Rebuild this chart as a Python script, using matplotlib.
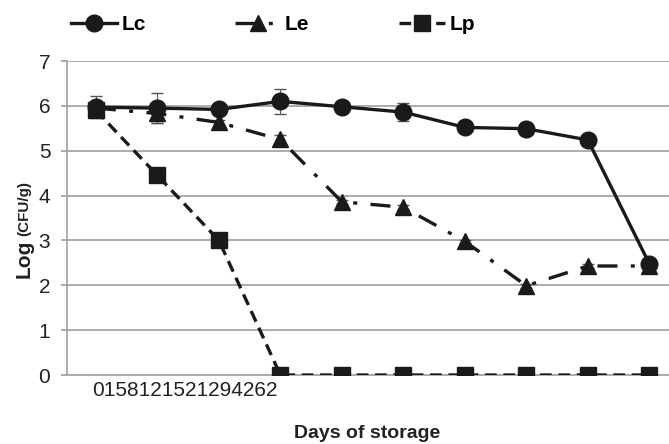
import matplotlib
matplotlib.use('Agg')
import matplotlib.pyplot as plt

plt.rcParams['font.family'] = ['Liberation Sans', 'DejaVu Sans']

# data
days = ['0', '1', '5', '8', '12', '15', '21', '29', '42', '62']
lc = [5.97, 5.95, 5.92, 6.10, 5.98, 5.86, 5.52, 5.49, 5.24, 2.48]
le = [5.95, 5.83, 5.63, 5.25, 3.86, 3.74, 2.98, 1.99, 2.43, 2.43]
lp = [5.90, 4.45, 3.00, 0, 0, 0, 0, 0, 0, 0]
lc_err = [0.25, 0.33, 0.08, 0.28, 0.05, 0.20, 0.04, 0.04, 0.04, 0.04]
le_err = [0.10, 0.22, 0.06, 0.10, 0.05, 0.05, 0.04, 0.04, 0.04, 0.04]

W, H = 669, 444
fig = plt.figure(figsize=(W / 100, H / 100), dpi=100)
ax = fig.add_axes([67 / W, 1 - 375 / H, (W - 67) / W, (375 - 61) / H])

x = list(range(len(days)))
grey = '#a6a6a6'

ax.errorbar(x, lc, yerr=lc_err, fmt='none', ecolor='#555555', elinewidth=0.8, capsize=4, zorder=2)
ax.errorbar(x, le, yerr=le_err, fmt='none', ecolor='#555555', elinewidth=0.8, capsize=4, zorder=2)

ax.plot(x, lc, color='#1a1a1a', lw=2.4, marker='o', ms=12, label='Lc', zorder=5)
ax.plot(x, le, color='#1a1a1a', lw=2.4, dashes=(6, 4, 1.2, 4), marker='^', ms=11,
        label='Le', zorder=4)
ax.plot(x, lp, color='#1a1a1a', lw=2.4, dashes=(3.5, 2), marker='s', ms=11,
        label='Lp', zorder=3)

ax.set_xlim(-0.47, 9.32)
ax.set_ylim(0, 7)
ax.set_yticks(range(0, 8))
ax.yaxis.grid(True, color=grey, lw=1.3)
ax.set_axisbelow(True)
for s in ['top', 'right']:
    ax.spines[s].set_visible(False)
ax.spines['left'].set_color(grey)
ax.spines['left'].set_linewidth(1.3)
ax.spines['bottom'].set_color(grey)
ax.spines['bottom'].set_linewidth(1.3)
ax.tick_params(axis='y', colors=grey, length=4, width=1.3, labelsize=15,
               labelcolor='#222222', pad=8)
ax.set_xticks([])

# category labels are squeezed together at the left in the original
fig.text(92 / W, 1 - 390 / H, ''.join(days), fontsize=15, color='#222222',
         ha='left', va='center')

fig.text(367 / W, 1 - 433 / H, 'Days of storage', fontsize=14, fontweight='bold',
         color='#222222', ha='center', va='center')

fig.text(24 / W, 1 - 278 / H, 'Log', fontsize=15, fontweight='bold', color='#222222',
         rotation=90, rotation_mode='anchor', ha='left', va='center')
fig.text(24 / W, 1 - 236 / H, '(CFU/g)', fontsize=11, fontweight='bold', color='#222222',
         rotation=90, rotation_mode='anchor', ha='left', va='center')

leg = fig.legend(loc='center', bbox_to_anchor=(273 / W, 1 - 25 / H), ncol=3, frameon=False,
                 handlelength=2.2, handletextpad=0.2, columnspacing=4.3,
                 prop={'weight': 'bold', 'size': 15})

fig.savefig('out.png', dpi=100)
